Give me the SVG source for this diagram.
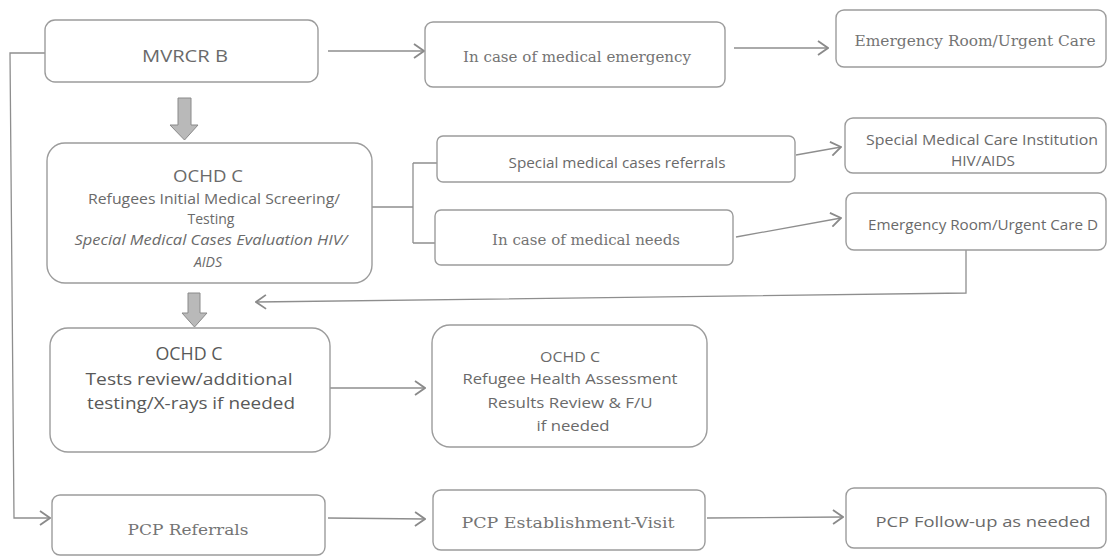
<svg xmlns="http://www.w3.org/2000/svg" width="1113" height="558" viewBox="0 0 1113 558">
<style>
.box{fill:#fff;stroke:#9c9c9c;stroke-width:1.4}
.ln{fill:none;stroke:#8e8e8e;stroke-width:1.3}
.sans{font-family:"Open Sans","DejaVu Sans",sans-serif;fill:#6a6a6a;text-anchor:middle}
.serif{font-family:"DejaVu Serif","Liberation Serif",serif;fill:#747474;text-anchor:middle}
.dark{fill:#595959}
.blk{fill:#b9b9b9;stroke:#8a8a8a;stroke-width:1}
</style>
<defs>
<marker id="chev" markerUnits="userSpaceOnUse" viewBox="0 0 12 16" markerWidth="12" markerHeight="16" refX="11" refY="8" orient="auto">
<path d="M1,1 L11,8 L1,15" fill="none" stroke="#8a8a8a" stroke-width="1.8"/>
</marker>
</defs>
<rect width="1113" height="558" fill="#fff"/>

<g id="connectors">
<line class="ln" x1="328" y1="51" x2="424" y2="51" marker-end="url(#chev)"/>
<line class="ln" x1="734" y1="48" x2="828" y2="48" marker-end="url(#chev)"/>
<polyline class="ln" points="45,53 10,53 14,518 50,518" marker-end="url(#chev)"/>
<line class="ln" x1="372" y1="207" x2="413" y2="207"/>
<line class="ln" x1="413" y1="163" x2="413" y2="243"/>
<line class="ln" x1="413" y1="163" x2="452" y2="163" marker-end="url(#chev)"/>
<line class="ln" x1="413" y1="243" x2="452" y2="243" marker-end="url(#chev)"/>
<line class="ln" x1="796" y1="155" x2="841" y2="147" marker-end="url(#chev)"/>
<line class="ln" x1="736" y1="237" x2="841" y2="218" marker-end="url(#chev)"/>
<polyline class="ln" points="966,250 966,293 256,302" marker-end="url(#chev)"/>
<line class="ln" x1="330" y1="388" x2="425" y2="388" marker-end="url(#chev)"/>
<line class="ln" x1="328" y1="518" x2="425" y2="519" marker-end="url(#chev)"/>
<line class="ln" x1="707" y1="518" x2="843" y2="517" marker-end="url(#chev)"/>
<path class="blk" d="M178,98 H191 V125 H198 L184.5,140 L170,125 H178 Z"/>
<path class="blk" d="M188,293 H200 V313 H207 L194.5,327 L182,313 H188 Z"/>
</g>

<g id="node-mvrcr">
<rect class="box" x="45" y="20" width="273" height="62" rx="10"/>
<text class="sans" x="185" y="62" font-size="16.5" textLength="86" lengthAdjust="spacingAndGlyphs">MVRCR  B</text>
</g>

<g id="node-emergency">
<rect class="box" x="425" y="22" width="300" height="65" rx="8"/>
<text class="serif" x="577" y="62" font-size="14" textLength="228" lengthAdjust="spacingAndGlyphs">In case of medical emergency</text>
</g>

<g id="node-er1">
<rect class="box" x="836" y="10" width="270" height="57" rx="8"/>
<text class="serif" x="975" y="46" font-size="15.5" textLength="241" lengthAdjust="spacingAndGlyphs">Emergency Room/Urgent Care</text>
</g>

<g id="node-ochd1">
<rect class="box" x="47" y="143" width="325" height="140" rx="18"/>
<text class="sans" x="208" y="182" font-size="17" textLength="70" lengthAdjust="spacingAndGlyphs">OCHD C</text>
<text class="sans" x="214" y="204" font-size="14" textLength="252" lengthAdjust="spacingAndGlyphs">Refugees Initial Medical Screering/</text>
<text class="sans" x="211" y="224" font-size="14">Testing</text>
<text class="sans" x="211" y="245" font-size="14" font-style="italic" textLength="273" lengthAdjust="spacingAndGlyphs">Special Medical Cases Evaluation HIV/</text>
<text class="sans" x="208" y="267" font-size="14" font-style="italic">AIDS</text>
</g>

<g id="node-referrals">
<rect class="box" x="437" y="136" width="358" height="46" rx="6"/>
<text class="sans" x="617" y="168" font-size="14.5" textLength="217" lengthAdjust="spacingAndGlyphs">Special medical  cases referrals</text>
</g>

<g id="node-needs">
<rect class="box" x="435" y="210" width="298" height="55" rx="6"/>
<text class="serif" x="586" y="245" font-size="14" textLength="188" lengthAdjust="spacingAndGlyphs">In case of medical needs</text>
</g>

<g id="node-smci">
<rect class="box" x="845" y="118" width="261" height="55" rx="8"/>
<text class="sans" x="982" y="145" font-size="14.5" textLength="232" lengthAdjust="spacingAndGlyphs">Special  Medical Care  Institution</text>
<text class="sans" x="983" y="166" font-size="14.5" textLength="64" lengthAdjust="spacingAndGlyphs">HIV/AIDS</text>
</g>

<g id="node-er2">
<rect class="box" x="846" y="193" width="260" height="57" rx="8"/>
<text class="sans" x="983" y="230" font-size="14.5" textLength="230" lengthAdjust="spacingAndGlyphs">Emergency Room/Urgent Care D</text>
</g>

<g id="node-ochd2">
<rect class="box" x="50" y="328" width="280" height="124" rx="18"/>
<text class="sans dark" x="189" y="360" font-size="18" textLength="67" lengthAdjust="spacingAndGlyphs">OCHD C</text>
<text class="sans dark" x="189" y="385" font-size="17" textLength="207" lengthAdjust="spacingAndGlyphs">Tests review/additional</text>
<text class="sans dark" x="191" y="409" font-size="17" textLength="208" lengthAdjust="spacingAndGlyphs">testing/X-rays if needed</text>
</g>

<g id="node-ochd3">
<rect class="box" x="432" y="325" width="275" height="122" rx="18"/>
<text class="sans" x="570" y="362" font-size="15" textLength="60" lengthAdjust="spacingAndGlyphs">OCHD C</text>
<text class="sans" x="570" y="384" font-size="15" textLength="215" lengthAdjust="spacingAndGlyphs">Refugee Health Assessment</text>
<text class="sans" x="570" y="408" font-size="15" textLength="165" lengthAdjust="spacingAndGlyphs">Results Review &amp; F/U</text>
<text class="sans" x="573" y="431" font-size="15" textLength="73" lengthAdjust="spacingAndGlyphs">if needed</text>
</g>

<g id="node-pcp-ref">
<rect class="box" x="52" y="495" width="273" height="60" rx="8"/>
<text class="serif" x="188" y="535" font-size="15" textLength="121" lengthAdjust="spacingAndGlyphs">PCP Referrals</text>
</g>

<g id="node-pcp-est">
<rect class="box" x="433" y="490" width="272" height="60" rx="8"/>
<text class="serif" x="568" y="528" font-size="15" textLength="213" lengthAdjust="spacingAndGlyphs">PCP Establishment-Visit</text>
</g>

<g id="node-pcp-fu">
<rect class="box" x="846" y="488" width="260" height="60" rx="8"/>
<text class="sans" x="983" y="527" font-size="15" textLength="215" lengthAdjust="spacingAndGlyphs">PCP Follow-up as needed</text>
</g>
</svg>
